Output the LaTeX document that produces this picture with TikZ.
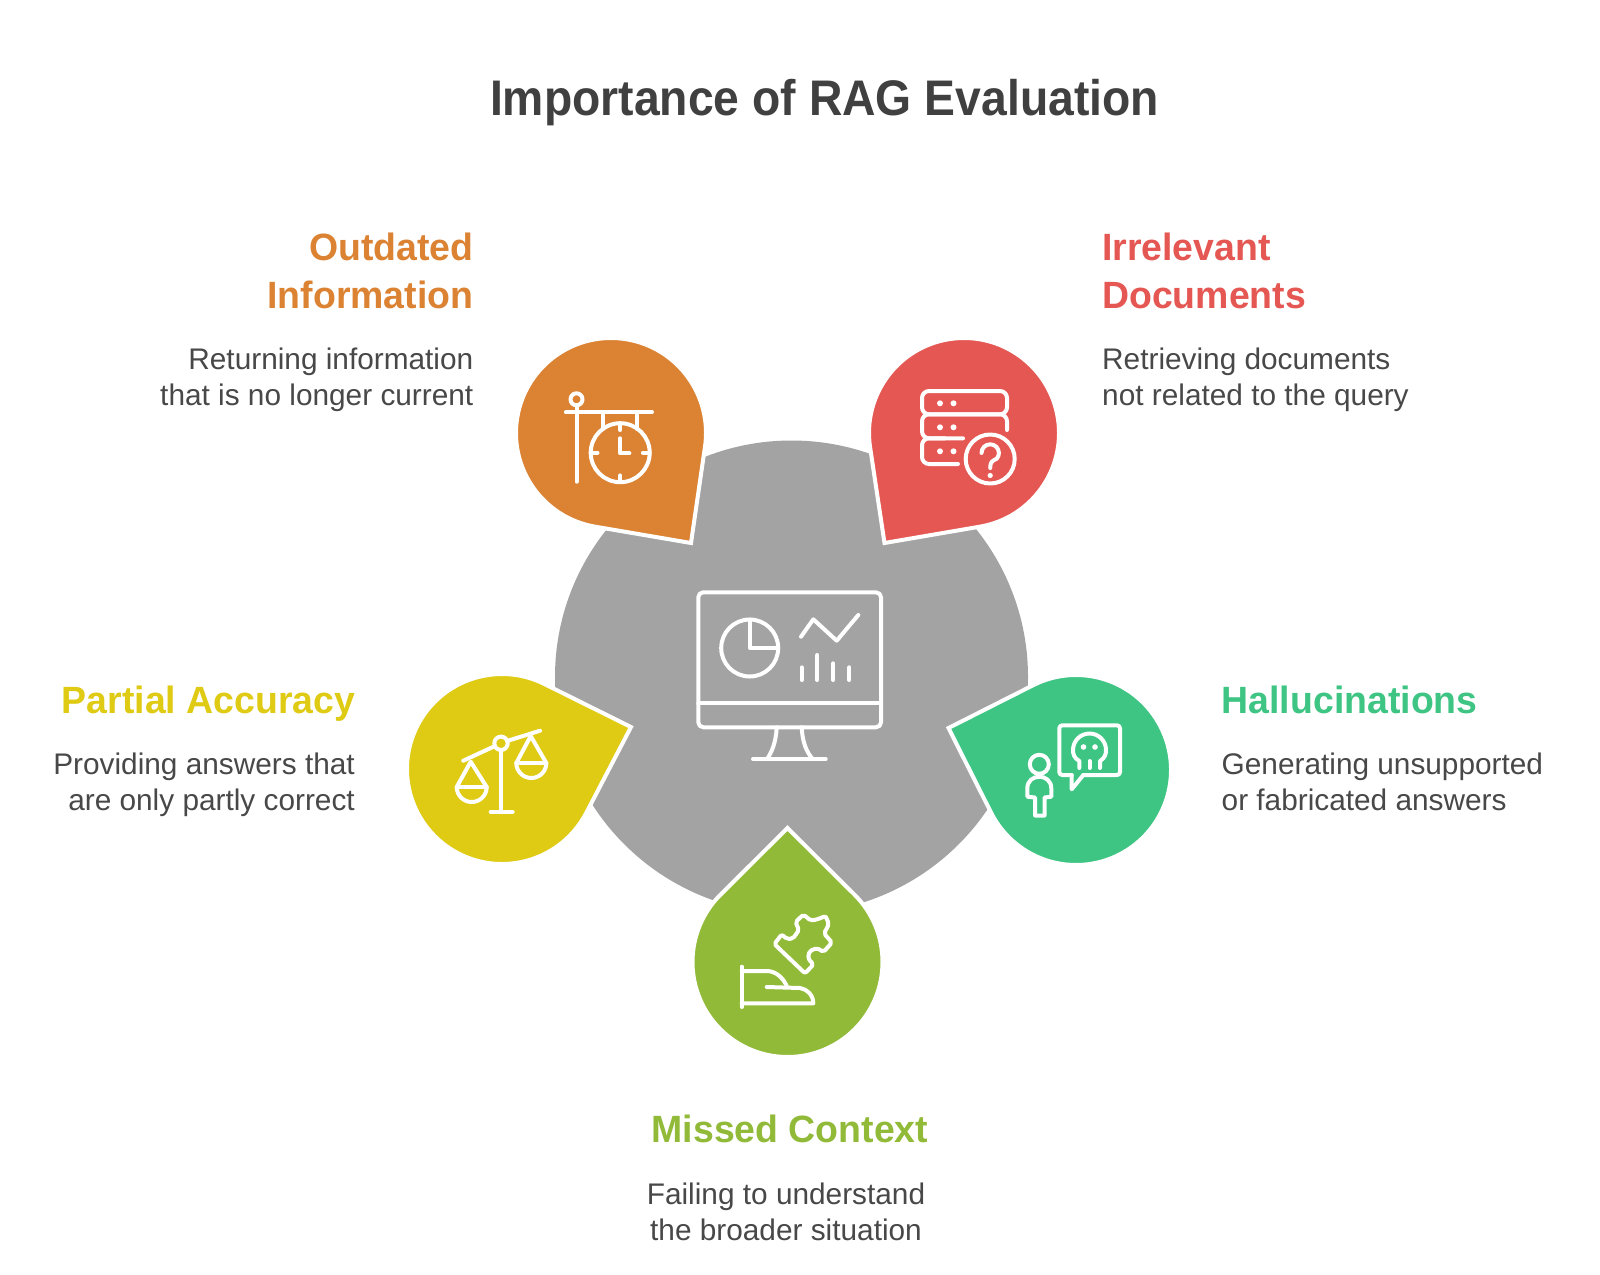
\documentclass[tikz,border=0pt]{standalone}
\usepackage{fontspec}
\setmainfont{Liberation Sans}
\newfontfamily\titlefam[FakeStretch=0.926]{Liberation Sans}
\newfontfamily\headfam[FakeStretch=0.985]{Liberation Sans}
\usetikzlibrary{calc}
\definecolor{cOrange}{HTML}{DB8333}
\definecolor{cRed}{HTML}{E55753}
\definecolor{cYellow}{HTML}{DFCA14}
\definecolor{cGreen}{HTML}{3EC483}
\definecolor{cLime}{HTML}{92BA39}
\definecolor{cGray}{HTML}{A3A3A3}
\definecolor{cTitle}{HTML}{404040}
\definecolor{cBody}{HTML}{484848}
\newcommand{\dropshape}[5]{%
  \pgfmathsetmacro\dth{atan2(#4-#2,#3-#1)}%
  \pgfmathsetmacro\dd{veclen(#4-#2,#3-#1)}%
  \pgfmathsetmacro\dph{acos(95/\dd)}%
  \pgfmathsetmacro\dsa{\dth+\dph}%
  \pgfmathsetmacro\dea{\dth-\dph+360}%
  \draw[fill=#5,draw=white,line width=4pt,miter limit=10]
    (#3,#4) -- ($(#1,#2)+(\dsa:95)$) arc[start angle=\dsa,end angle=\dea,radius=95] -- cycle;}
\tikzset{
  x=1pt,y=-1pt,
  icon/.style={draw=white,line width=4pt,line cap=round,line join=round,fill=none},
  dotfill/.style={fill=white,draw=none},
  titletext/.style={font=\titlefam\fontsize{50}{58}\selectfont\bfseries,text=cTitle,inner sep=0pt},
  headtext/.style={font=\headfam\fontsize{38}{48}\selectfont\bfseries,inner sep=0pt},
  bodytext/.style={font=\fontsize{29.8}{35.8}\selectfont,text=cBody,inner sep=0pt},
}
\begin{document}
\begin{tikzpicture}
\useasboundingbox (0,0) rectangle (1600,1274);
\fill[white] (0,0) rectangle (1600,1274);
\node[titletext] (title) at (824.5,102.5) {Importance of RAG Evaluation};
\fill[cGray] (791.5,677) circle[radius=236.5];
\dropshape{611}{433}{691}{543}{cOrange}
\dropshape{964}{433}{884.5}{543}{cRed}
\dropshape{502}{769}{631}{727}{cYellow}
\dropshape{1076}{770}{948.5}{728}{cGreen}
\dropshape{787.5}{962}{787.5}{828}{cLime}
% monitor
\draw[icon,rounded corners=5pt] (698.3,592.3) rectangle (881,727.3);
\draw[icon] (698.3,703.3) -- (881,703.3);
\draw[icon] (776.7,727.3) .. controls (776,742) and (772,752) .. (767,759);
\draw[icon] (801.7,727.3) .. controls (802.4,742) and (806.4,752) .. (812.7,759);
\draw[icon] (753,759) -- (825.7,759);
\draw[icon] (749.7,648) circle[radius=28.5];
\draw[icon] (749.7,619.5) -- (749.7,648) -- (778.2,648);
\draw[icon] (801,636.7) -- (813.3,619.3) -- (836.7,640.7) -- (858.3,615);
\draw[icon] (801.7,667.3) -- (801.7,680);
\draw[icon] (817.3,655) -- (817.3,680);
\draw[icon] (833.3,663.3) -- (833.3,680);
\draw[icon] (849.3,667.3) -- (849.3,680);
% hanging clock
\draw[icon] (576.5,399.3) circle[radius=6];
\draw[icon] (576.5,405.3) -- (576.5,481.7);
\draw[icon] (565.8,412.3) -- (652,412.3);
\draw[icon] (603.3,412.3) -- (603.3,429);
\draw[icon] (637,412.3) -- (637,429);
\draw[icon] (620.2,452.7) circle[radius=29.5];
\draw[icon] (620.2,423.2) -- (620.2,430);
\draw[icon] (620.2,475.4) -- (620.2,482.2);
\draw[icon] (590.7,452.7) -- (597.5,452.7);
\draw[icon] (642.9,452.7) -- (649.7,452.7);
\draw[icon] (620.2,438.3) -- (620.2,453.3) -- (629.4,453.3);
% database question
\draw[icon,rounded corners=7pt] (922,391) rectangle (1007,414.3);
\draw[icon,rounded corners=7pt] (1007,430) -- (1007,414.3) -- (922,414.3) -- (922,438.3) -- (963,438.3);
\draw[icon,rounded corners=7pt] (945,438.3) -- (922,438.3) -- (922,464) -- (958,464);
\foreach \dy in {403.3,427.3,451.3}{\fill[dotfill] (940,\dy) circle[radius=3]; \fill[dotfill] (953.5,\dy) circle[radius=3];}
\draw[icon] (990.2,459) circle[radius=24.5];
\draw[icon] (981.5,453) arc[start angle=180,end angle=400,radius=8.7] .. controls (992,461) and (990.2,462) .. (990.2,468);
\fill[dotfill] (990.2,475.5) circle[radius=2.6];
% scales
\draw[icon] (463.3,760.7) -- (495,746);
\draw[icon] (507,741) -- (540,730.7);
\draw[icon] (501,743.3) circle[radius=6.7];
\draw[icon] (501,750) -- (501,811.7);
\draw[icon] (490.7,811.7) -- (512.7,811.7);
\draw[icon] (470.7,761.7) -- (456.7,787) arc[start angle=180,end angle=0,radius=15] -- cycle;
\draw[icon] (456.7,787) -- (486.7,787);
\draw[icon] (530.7,736) -- (516.3,763) arc[start angle=180,end angle=0,radius=15] -- cycle;
\draw[icon] (516.3,763) -- (546.3,763);
% person and speech
\draw[icon,rounded corners=3pt] (1083.3,775) -- (1120,775) -- (1120,725.3) -- (1059.3,725.3) -- (1059.3,775) -- (1071.7,775);
\draw[icon] (1071.7,775) -- (1071.7,789.3) -- (1083.3,775);
\draw[icon] (1079.3,768) -- (1079.3,761) .. controls (1074,758) and (1073,754) .. (1073,750) arc[start angle=180,end angle=360,radius=16.5] .. controls (1106,754) and (1105,758) .. (1100,761) -- (1100,768);
\draw[icon] (1089.5,761) -- (1089.5,768);
\fill[dotfill] (1083.5,747) circle[radius=2.8];
\fill[dotfill] (1095,747) circle[radius=2.8];
\draw[icon] (1039.3,764.3) circle[radius=9.5];
\draw[icon] (1035,815.5) -- (1035,797.5) -- (1027.3,796.7) -- (1027.3,788.3) .. controls (1027.3,781) and (1033,776.7) .. (1039.3,776.7) .. controls (1045.6,776.7) and (1051.3,781) .. (1051.3,788.3) -- (1051.3,796.7) -- (1044.5,797.5) -- (1044.5,815.5) -- cycle;
% hand and puzzle
\draw[icon] (741.7,966.7) -- (741.7,1007);
\draw[icon] (741.7,971) -- (768,971) .. controls (777,972) and (783,978) .. (786.7,986);
\draw[icon] (766.7,987) -- (800,988) .. controls (807,989) and (813.3,995) .. (813.3,1003.3) -- (741.7,1003.3);
\draw[icon,rounded corners=2pt] (774.3,944) -- (781.7,934.5) -- (787,939) -- (793,938.5) -- (799,930) -- (795.5,922) -- (803.5,914.5) -- (810.5,920.5) -- (817,919.5) -- (825.5,916) -- (829,924) -- (824,933.5) -- (832,942.5) -- (823.5,952) -- (817,948) -- (809.5,951) -- (808,958.5) -- (813.5,964.5) -- (805,973.3) -- cycle;
% texts
\node[headtext,text=cOrange,anchor=north east,align=right] (h1) at (473.5,227) {\strut Outdated\\Information};
\node[bodytext,anchor=north east,align=right] (b1) at (473.5,344) {\strut Returning information\\that is no longer current};
\node[headtext,text=cRed,anchor=north west,align=left] (h2) at (1102,227) {\strut Irrelevant\\Documents};
\node[bodytext,anchor=north west,align=left] (b2) at (1102,344) {\strut Retrieving documents\\not related to the query};
\node[headtext,text=cYellow,anchor=north east,align=right] (h3) at (355.5,680) {\strut Partial Accuracy};
\node[bodytext,anchor=north east,align=right] (b3) at (355,749) {\strut Providing answers that\\are only partly correct};
\node[headtext,text=cGreen,anchor=north west,align=left] (h4) at (1221.5,680) {\strut Hallucinations};
\node[bodytext,anchor=north west,align=left] (b4) at (1221.5,749) {\strut Generating unsupported\\or fabricated answers};
\node[headtext,text=cLime,anchor=north] (h5) at (790,1109) {\strut Missed Context};
\node[bodytext,anchor=north,align=center] (b5) at (786,1179) {\strut Failing to understand\\the broader situation};
\end{tikzpicture}
\end{document}
